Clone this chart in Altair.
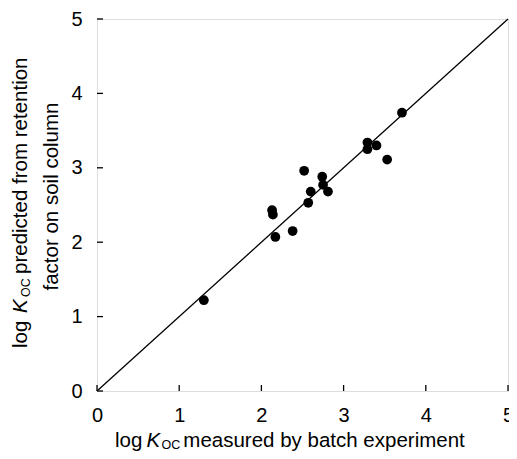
import altair as alt
import pandas as pd

# measured (batch) vs predicted (soil column) log Koc
measured = [3.71, 3.29, 3.29, 3.40, 3.53, 2.52, 2.74, 2.75, 2.81, 2.60, 2.57, 2.13, 2.14, 2.17, 2.38, 1.30]
predicted = [3.74, 3.34, 3.25, 3.30, 3.11, 2.96, 2.88, 2.77, 2.68, 2.68, 2.53, 2.43, 2.37, 2.07, 2.15, 1.22]
line_x = [0, 5]
line_y = [0, 5]
tick_values = [0, 1, 2, 3, 4, 5]

FONT = "Liberation Sans"
TS = 20.5   # title font size
SS = 12.5   # subscript size

pts = pd.DataFrame({"m": measured, "p": predicted})
diag = pd.DataFrame({"m": line_x, "p": line_y})
ticks = pd.DataFrame({"t": tick_values})
one = pd.DataFrame({"a": [0]})

xs = alt.Scale(domain=[0, 5], nice=False, zero=False)
ys = alt.Scale(domain=[0, 5], nice=False, zero=False)

xaxis = alt.Axis(values=tick_values, title=None, ticks=False, domain=False, grid=False,
                 labelFontSize=20, labelFont=FONT, labelColor="black", labelPadding=14,
                 labelFlush=False, labelOverlap=False, format="d")
yaxis = alt.Axis(values=tick_values, title=None, ticks=False, domain=False, grid=False,
                 labelFontSize=20, labelFont=FONT, labelColor="black", labelPadding=15,
                 labelOverlap=False, format="d")

line = alt.Chart(diag).mark_line(color="black", strokeWidth=1.3).encode(
    x=alt.X("m:Q", scale=xs, axis=xaxis),
    y=alt.Y("p:Q", scale=ys, axis=yaxis),
)

points = alt.Chart(pts).mark_circle(color="black", opacity=1, size=95).encode(
    x=alt.X("m:Q", scale=xs),
    y=alt.Y("p:Q", scale=ys),
)

xt = alt.Chart(ticks).mark_rule(color="black", strokeWidth=1.3).encode(
    x=alt.X("t:Q", scale=xs), y=alt.value(372), y2=alt.value(366)
)
yt = alt.Chart(ticks).mark_rule(color="black", strokeWidth=1.3).encode(
    y=alt.Y("t:Q", scale=ys), x=alt.value(0), x2=alt.value(6)
)


def txt(s, x, y, size=TS, style="normal", angle=0, align="left"):
    return alt.Chart(one).mark_text(
        text=s, font=FONT, fontSize=size, fontStyle=style, angle=angle,
        align=align, baseline="alphabetic", color="black"
    ).encode(x=alt.value(x), y=alt.value(y))


texts = [
    # x title
    txt("log", 18, 427.5),
    txt("K", 49.5, 427.5, style="italic"),
    txt("OC", 64.5, 429.5, size=SS),
    txt("measured by batch experiment", 86.3, 427.5),
    # y title line 1
    txt("log", -70, 329, angle=270),
    txt("K", -70, 294, style="italic", angle=270),
    txt("OC", -67.5, 278, size=SS, angle=270),
    txt("predicted from retention", -70, 255, angle=270),
    # y title line 2
    txt("factor on soil column", -39, 177.5, angle=270, align="center"),
]

chart = alt.layer(line, points, xt, yt, *texts).properties(
    width=411, height=372,
    autosize=alt.AutoSizeParams(type="none"),
    padding={"left": 89, "top": 11, "right": 1, "bottom": 60},
).configure_view(stroke="black", strokeWidth=1.5).configure(background="white")

chart.save("out.html", embed_options={"renderer": "svg", "actions": False})
